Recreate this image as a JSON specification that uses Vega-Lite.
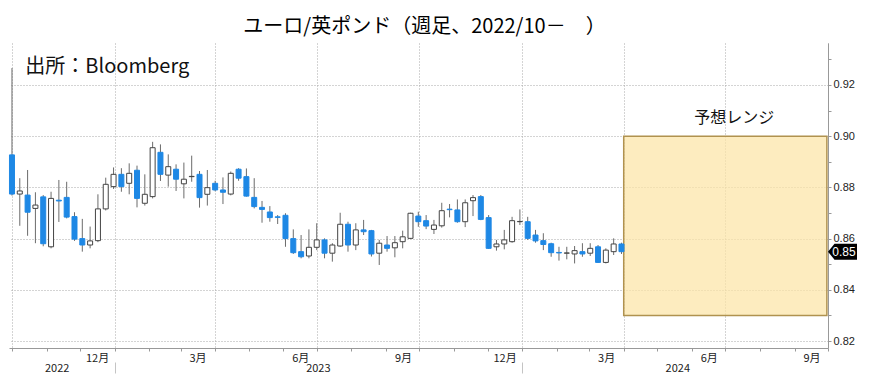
{
  "$schema": "https://vega.github.io/schema/vega-lite/v6.json",
  "width": 819,
  "height": 305,
  "autosize": "none",
  "padding": {"left": 9, "top": 43, "right": 41, "bottom": 37},
  "background": "white",
  "title": {"text": "ユーロ/英ポンド（週足、2022/10－　）", "fontSize": 20, "font": "Noto Sans CJK JP", "fontWeight": "normal", "color": "#000000", "anchor": "middle", "offset": 6, "dx": 6},
  "config": {"view": {"stroke": null}},
  "datasets": {
    "candles": [
      {"date": "2022-10-01", "open": 0.8927, "high": 0.9266, "low": 0.8768, "close": 0.8774},
      {"date": "2022-10-08", "open": 0.8774, "high": 0.8836, "low": 0.8650, "close": 0.8786},
      {"date": "2022-10-15", "open": 0.8770, "high": 0.8868, "low": 0.8611, "close": 0.8703},
      {"date": "2022-10-22", "open": 0.8718, "high": 0.8781, "low": 0.8582, "close": 0.8731},
      {"date": "2022-10-29", "open": 0.8763, "high": 0.8770, "low": 0.8570, "close": 0.8580},
      {"date": "2022-11-05", "open": 0.8568, "high": 0.8783, "low": 0.8562, "close": 0.8757},
      {"date": "2022-11-12", "open": 0.8750, "high": 0.8829, "low": 0.8665, "close": 0.8747},
      {"date": "2022-11-19", "open": 0.8761, "high": 0.8822, "low": 0.8679, "close": 0.8684},
      {"date": "2022-11-26", "open": 0.8686, "high": 0.8703, "low": 0.8591, "close": 0.8598},
      {"date": "2022-12-03", "open": 0.8600, "high": 0.8677, "low": 0.8549, "close": 0.8575},
      {"date": "2022-12-10", "open": 0.8575, "high": 0.8647, "low": 0.8562, "close": 0.8591},
      {"date": "2022-12-17", "open": 0.8592, "high": 0.8773, "low": 0.8586, "close": 0.8716},
      {"date": "2022-12-24", "open": 0.8716, "high": 0.8838, "low": 0.8710, "close": 0.8812},
      {"date": "2022-12-31", "open": 0.8803, "high": 0.8878, "low": 0.8794, "close": 0.8851},
      {"date": "2023-01-07", "open": 0.8851, "high": 0.8875, "low": 0.8783, "close": 0.8803},
      {"date": "2023-01-14", "open": 0.8816, "high": 0.8894, "low": 0.8773, "close": 0.8855},
      {"date": "2023-01-21", "open": 0.8867, "high": 0.8885, "low": 0.8722, "close": 0.8757},
      {"date": "2023-01-28", "open": 0.8738, "high": 0.8851, "low": 0.8729, "close": 0.8773},
      {"date": "2023-02-04", "open": 0.8764, "high": 0.8978, "low": 0.8757, "close": 0.8955},
      {"date": "2023-02-11", "open": 0.8937, "high": 0.8968, "low": 0.8825, "close": 0.8851},
      {"date": "2023-02-18", "open": 0.8848, "high": 0.8929, "low": 0.8803, "close": 0.8881},
      {"date": "2023-02-25", "open": 0.8871, "high": 0.8890, "low": 0.8786, "close": 0.8832},
      {"date": "2023-03-04", "open": 0.8814, "high": 0.8897, "low": 0.8757, "close": 0.8832},
      {"date": "2023-03-11", "open": 0.8842, "high": 0.8924, "low": 0.8822, "close": 0.8843},
      {"date": "2023-03-18", "open": 0.8851, "high": 0.8864, "low": 0.8721, "close": 0.8760},
      {"date": "2023-03-25", "open": 0.8773, "high": 0.8868, "low": 0.8729, "close": 0.8799},
      {"date": "2023-04-01", "open": 0.8816, "high": 0.8826, "low": 0.8785, "close": 0.8790},
      {"date": "2023-04-08", "open": 0.8790, "high": 0.8839, "low": 0.8735, "close": 0.8781},
      {"date": "2023-04-15", "open": 0.8774, "high": 0.8862, "low": 0.8769, "close": 0.8855},
      {"date": "2023-04-22", "open": 0.8871, "high": 0.8875, "low": 0.8826, "close": 0.8836},
      {"date": "2023-04-29", "open": 0.8842, "high": 0.8874, "low": 0.8764, "close": 0.8766},
      {"date": "2023-05-06", "open": 0.8761, "high": 0.8836, "low": 0.8718, "close": 0.8725},
      {"date": "2023-05-13", "open": 0.8722, "high": 0.8747, "low": 0.8662, "close": 0.8714},
      {"date": "2023-05-20", "open": 0.8704, "high": 0.8727, "low": 0.8666, "close": 0.8682},
      {"date": "2023-05-27", "open": 0.8685, "high": 0.8692, "low": 0.8657, "close": 0.8683},
      {"date": "2023-06-03", "open": 0.8691, "high": 0.8699, "low": 0.8568, "close": 0.8600},
      {"date": "2023-06-10", "open": 0.8600, "high": 0.8636, "low": 0.8540, "close": 0.8545},
      {"date": "2023-06-17", "open": 0.8549, "high": 0.8614, "low": 0.8523, "close": 0.8529},
      {"date": "2023-06-24", "open": 0.8532, "high": 0.8636, "low": 0.8523, "close": 0.8566},
      {"date": "2023-07-01", "open": 0.8566, "high": 0.8660, "low": 0.8555, "close": 0.8595},
      {"date": "2023-07-08", "open": 0.8595, "high": 0.8601, "low": 0.8523, "close": 0.8543},
      {"date": "2023-07-15", "open": 0.8543, "high": 0.8582, "low": 0.8510, "close": 0.8575},
      {"date": "2023-07-22", "open": 0.8571, "high": 0.8701, "low": 0.8568, "close": 0.8656},
      {"date": "2023-07-29", "open": 0.8656, "high": 0.8666, "low": 0.8549, "close": 0.8575},
      {"date": "2023-08-05", "open": 0.8575, "high": 0.8660, "low": 0.8555, "close": 0.8634},
      {"date": "2023-08-12", "open": 0.8634, "high": 0.8673, "low": 0.8614, "close": 0.8627},
      {"date": "2023-08-19", "open": 0.8631, "high": 0.8634, "low": 0.8530, "close": 0.8540},
      {"date": "2023-08-26", "open": 0.8543, "high": 0.8595, "low": 0.8497, "close": 0.8582},
      {"date": "2023-09-02", "open": 0.8575, "high": 0.8610, "low": 0.8549, "close": 0.8562},
      {"date": "2023-09-09", "open": 0.8564, "high": 0.8610, "low": 0.8527, "close": 0.8584},
      {"date": "2023-09-16", "open": 0.8588, "high": 0.8631, "low": 0.8562, "close": 0.8607},
      {"date": "2023-09-23", "open": 0.8601, "high": 0.8701, "low": 0.8598, "close": 0.8699},
      {"date": "2023-09-30", "open": 0.8688, "high": 0.8705, "low": 0.8646, "close": 0.8666},
      {"date": "2023-10-07", "open": 0.8670, "high": 0.8692, "low": 0.8637, "close": 0.8649},
      {"date": "2023-10-14", "open": 0.8636, "high": 0.8673, "low": 0.8618, "close": 0.8653},
      {"date": "2023-10-21", "open": 0.8650, "high": 0.8740, "low": 0.8643, "close": 0.8709},
      {"date": "2023-10-28", "open": 0.8715, "high": 0.8735, "low": 0.8683, "close": 0.8713},
      {"date": "2023-11-04", "open": 0.8712, "high": 0.8753, "low": 0.8662, "close": 0.8666},
      {"date": "2023-11-11", "open": 0.8666, "high": 0.8753, "low": 0.8645, "close": 0.8740},
      {"date": "2023-11-18", "open": 0.8748, "high": 0.8770, "low": 0.8688, "close": 0.8760},
      {"date": "2023-11-25", "open": 0.8764, "high": 0.8770, "low": 0.8672, "close": 0.8675},
      {"date": "2023-12-02", "open": 0.8682, "high": 0.8692, "low": 0.8560, "close": 0.8562},
      {"date": "2023-12-09", "open": 0.8568, "high": 0.8595, "low": 0.8553, "close": 0.8579},
      {"date": "2023-12-16", "open": 0.8579, "high": 0.8634, "low": 0.8558, "close": 0.8595},
      {"date": "2023-12-23", "open": 0.8588, "high": 0.8685, "low": 0.8584, "close": 0.8670},
      {"date": "2023-12-30", "open": 0.8666, "high": 0.8714, "low": 0.8653, "close": 0.8667},
      {"date": "2024-01-06", "open": 0.8666, "high": 0.8685, "low": 0.8595, "close": 0.8601},
      {"date": "2024-01-13", "open": 0.8614, "high": 0.8634, "low": 0.8584, "close": 0.8591},
      {"date": "2024-01-20", "open": 0.8592, "high": 0.8621, "low": 0.8555, "close": 0.8577},
      {"date": "2024-01-27", "open": 0.8580, "high": 0.8584, "low": 0.8529, "close": 0.8545},
      {"date": "2024-02-03", "open": 0.8546, "high": 0.8568, "low": 0.8514, "close": 0.8544},
      {"date": "2024-02-10", "open": 0.8543, "high": 0.8568, "low": 0.8519, "close": 0.8544},
      {"date": "2024-02-17", "open": 0.8540, "high": 0.8571, "low": 0.8503, "close": 0.8553},
      {"date": "2024-02-24", "open": 0.8549, "high": 0.8582, "low": 0.8529, "close": 0.8540},
      {"date": "2024-03-02", "open": 0.8543, "high": 0.8582, "low": 0.8532, "close": 0.8562},
      {"date": "2024-03-09", "open": 0.8568, "high": 0.8575, "low": 0.8505, "close": 0.8507},
      {"date": "2024-03-16", "open": 0.8507, "high": 0.8562, "low": 0.8503, "close": 0.8555},
      {"date": "2024-03-23", "open": 0.8549, "high": 0.8601, "low": 0.8536, "close": 0.8579},
      {"date": "2024-03-30", "open": 0.8579, "high": 0.8584, "low": 0.8540, "close": 0.8549}
    ],
    "box": [{"start": "2024-04-01", "end": "2024-09-30", "low": 0.83, "high": 0.90}],
    "notes": [
      {"date": "2022-10-13", "value": 0.9270, "label": "出所：Bloomberg", "kind": "source"},
      {"date": "2024-07-09", "value": 0.9071, "label": "予想レンジ", "kind": "range"}
    ]
  },
  "resolve": {"axis": {"x": "independent", "y": "independent"}},
  "layer": [
    {
      "data": {"name": "box"},
      "mark": {"type": "rect", "fill": "#fce4a6", "fillOpacity": 0.72, "stroke": "#b0924f", "strokeWidth": 1.5, "strokeOpacity": 1},
      "encoding": {
        "x": {
          "field": "start", "type": "temporal",
          "scale": {"type": "utc", "nice": false, "padding": 0, "domain": [{"year": 2022, "month": 9, "date": 28, "hours": 8, "utc": true}, {"year": 2024, "month": 10, "date": 1, "utc": true}]},
          "axis": {
            "orient": "bottom", "title": null,
            "values": [
              {"year": 2022, "month": 10, "date": 1, "utc": true}, {"year": 2022, "month": 11, "date": 1, "utc": true}, {"year": 2022, "month": 12, "date": 1, "utc": true},
              {"year": 2023, "month": 1, "date": 1, "utc": true}, {"year": 2023, "month": 2, "date": 1, "utc": true}, {"year": 2023, "month": 3, "date": 1, "utc": true},
              {"year": 2023, "month": 4, "date": 1, "utc": true}, {"year": 2023, "month": 5, "date": 1, "utc": true}, {"year": 2023, "month": 6, "date": 1, "utc": true},
              {"year": 2023, "month": 7, "date": 1, "utc": true}, {"year": 2023, "month": 8, "date": 1, "utc": true}, {"year": 2023, "month": 9, "date": 1, "utc": true},
              {"year": 2023, "month": 10, "date": 1, "utc": true}, {"year": 2023, "month": 11, "date": 1, "utc": true}, {"year": 2023, "month": 12, "date": 1, "utc": true},
              {"year": 2024, "month": 1, "date": 1, "utc": true}, {"year": 2024, "month": 2, "date": 1, "utc": true}, {"year": 2024, "month": 3, "date": 1, "utc": true},
              {"year": 2024, "month": 4, "date": 1, "utc": true}, {"year": 2024, "month": 5, "date": 1, "utc": true}, {"year": 2024, "month": 6, "date": 1, "utc": true},
              {"year": 2024, "month": 7, "date": 1, "utc": true}, {"year": 2024, "month": 8, "date": 1, "utc": true}, {"year": 2024, "month": 9, "date": 1, "utc": true},
              {"year": 2024, "month": 10, "date": 1, "utc": true}
            ],
            "domain": true, "domainColor": "#999999", "domainWidth": 1,
            "ticks": true, "tickSize": 3, "tickColor": "#999999",
            "grid": true, "gridColor": "#a8a8a8", "gridDash": [1, 2],
            "gridOpacity": {"condition": {"test": "utcmonth(datum.value) % 3 == 0", "value": 1}, "value": 0},
            "labelExpr": "utcmonth(datum.value) % 3 == 2 ? (utcmonth(datum.value) + 1) + '月' : ''",
            "labelOffset": 17, "labelPadding": 1, "labelFont": "Noto Sans CJK JP", "labelFontSize": 11, "labelColor": "#222222",
            "labelOverlap": false, "labelFlush": false
          }
        },
        "x2": {"field": "end"},
        "y": {
          "field": "low", "type": "quantitative",
          "scale": {"domain": [0.81727, 0.9364], "nice": false, "zero": false},
          "axis": {
            "orient": "right", "title": null,
            "values": [0.82, 0.84, 0.86, 0.88, 0.9, 0.92],
            "format": ".2f",
            "grid": true, "gridColor": "#a8a8a8", "gridDash": [1, 2],
            "domain": true, "domainColor": "#999999", "domainWidth": 1,
            "ticks": true, "tickSize": 3, "tickColor": "#999999",
            "labels": true, "labelFont": "Liberation Sans", "labelFontSize": 11, "labelColor": "#222222", "labelPadding": 2,
            "labelOverlap": false, "labelFlush": false
          }
        },
        "y2": {"field": "high"}
      }
    },
    {
      "data": {"name": "candles"},
      "mark": {"type": "rule", "color": "#6b6b6b", "strokeWidth": 1},
      "encoding": {
        "x": {
          "field": "date", "type": "temporal",
          "axis": {
            "orient": "bottom", "offset": 14, "title": null,
            "values": [
              {"year": 2022, "month": 11, "date": 10, "utc": true},
              {"year": 2023, "month": 1, "date": 1, "utc": true},
              {"year": 2023, "month": 7, "date": 2, "utc": true},
              {"year": 2024, "month": 1, "date": 1, "utc": true},
              {"year": 2024, "month": 5, "date": 19, "utc": true}
            ],
            "domain": false, "grid": false,
            "ticks": true, "tickSize": 11, "tickColor": "#c4c4c4",
            "tickOpacity": {"condition": {"test": "utcmonth(datum.value) == 0 && utcdate(datum.value) == 1", "value": 1}, "value": 0},
            "labelExpr": "utcmonth(datum.value) == 0 && utcdate(datum.value) == 1 ? '' : utcFormat(datum.value, '%Y')",
            "labelPadding": -11, "labelFont": "Noto Sans CJK JP", "labelFontSize": 11, "labelColor": "#222222",
            "labelOverlap": false, "labelFlush": false
          }
        },
        "y": {
          "field": "low", "type": "quantitative",
          "axis": {
            "orient": "right", "title": null,
            "values": [0.83, 0.85, 0.87, 0.89, 0.91, 0.93],
            "grid": false, "domain": false, "labels": false,
            "ticks": true, "tickSize": 3, "tickColor": "#999999"
          }
        },
        "y2": {"field": "high"}
      }
    },
    {
      "data": {"name": "candles"},
      "mark": {"type": "bar", "width": 5, "strokeWidth": 1},
      "encoding": {
        "x": {"field": "date", "type": "temporal", "axis": null},
        "y": {"field": "open", "type": "quantitative", "axis": null},
        "y2": {"field": "close"},
        "fill": {"condition": {"test": "datum.close < datum.open", "value": "#1e88e5"}, "value": "#ffffff"},
        "stroke": {"condition": {"test": "datum.close < datum.open", "value": "#1e88e5"}, "value": "#444444"}
      }
    },
    {
      "data": {"name": "notes"},
      "transform": [{"filter": "datum.kind == 'source'"}],
      "mark": {"type": "text", "align": "left", "baseline": "middle", "font": "Noto Sans CJK JP", "fontSize": 20, "color": "#111111"},
      "encoding": {
        "x": {"field": "date", "type": "temporal", "axis": null},
        "y": {"field": "value", "type": "quantitative", "axis": null},
        "text": {"field": "label"}
      }
    },
    {
      "data": {"name": "notes"},
      "transform": [{"filter": "datum.kind == 'range'"}],
      "mark": {"type": "text", "align": "center", "baseline": "middle", "font": "Noto Sans CJK JP", "fontSize": 16, "color": "#111111"},
      "encoding": {
        "x": {"field": "date", "type": "temporal", "axis": null},
        "y": {"field": "value", "type": "quantitative", "axis": null},
        "text": {"field": "label"}
      }
    },
    {
      "data": {"name": "candles"},
      "transform": [
        {"window": [{"op": "row_number", "as": "r"}], "sort": [{"field": "date", "order": "descending"}]},
        {"filter": "datum.r == 1"}
      ],
      "mark": {"type": "point", "shape": "M 0 0 L 0.45 -0.55 L 2 -0.55 L 2 0.55 L 0.45 0.55 Z", "size": 841, "filled": true, "fill": "#000000", "strokeWidth": 0, "opacity": 1},
      "encoding": {
        "x": {"datum": {"year": 2024, "month": 10, "date": 1, "utc": true}, "type": "temporal", "axis": null},
        "y": {"field": "close", "type": "quantitative", "axis": null}
      }
    },
    {
      "data": {"name": "candles"},
      "transform": [
        {"window": [{"op": "row_number", "as": "r"}], "sort": [{"field": "date", "order": "descending"}]},
        {"filter": "datum.r == 1"}
      ],
      "mark": {"type": "text", "dx": 16, "align": "center", "baseline": "middle", "font": "Liberation Sans", "fontSize": 12, "color": "#ffffff"},
      "encoding": {
        "x": {"datum": {"year": 2024, "month": 10, "date": 1, "utc": true}, "type": "temporal", "axis": null},
        "y": {"field": "close", "type": "quantitative", "axis": null},
        "text": {"field": "close", "format": ".2f"}
      }
    }
  ]
}
